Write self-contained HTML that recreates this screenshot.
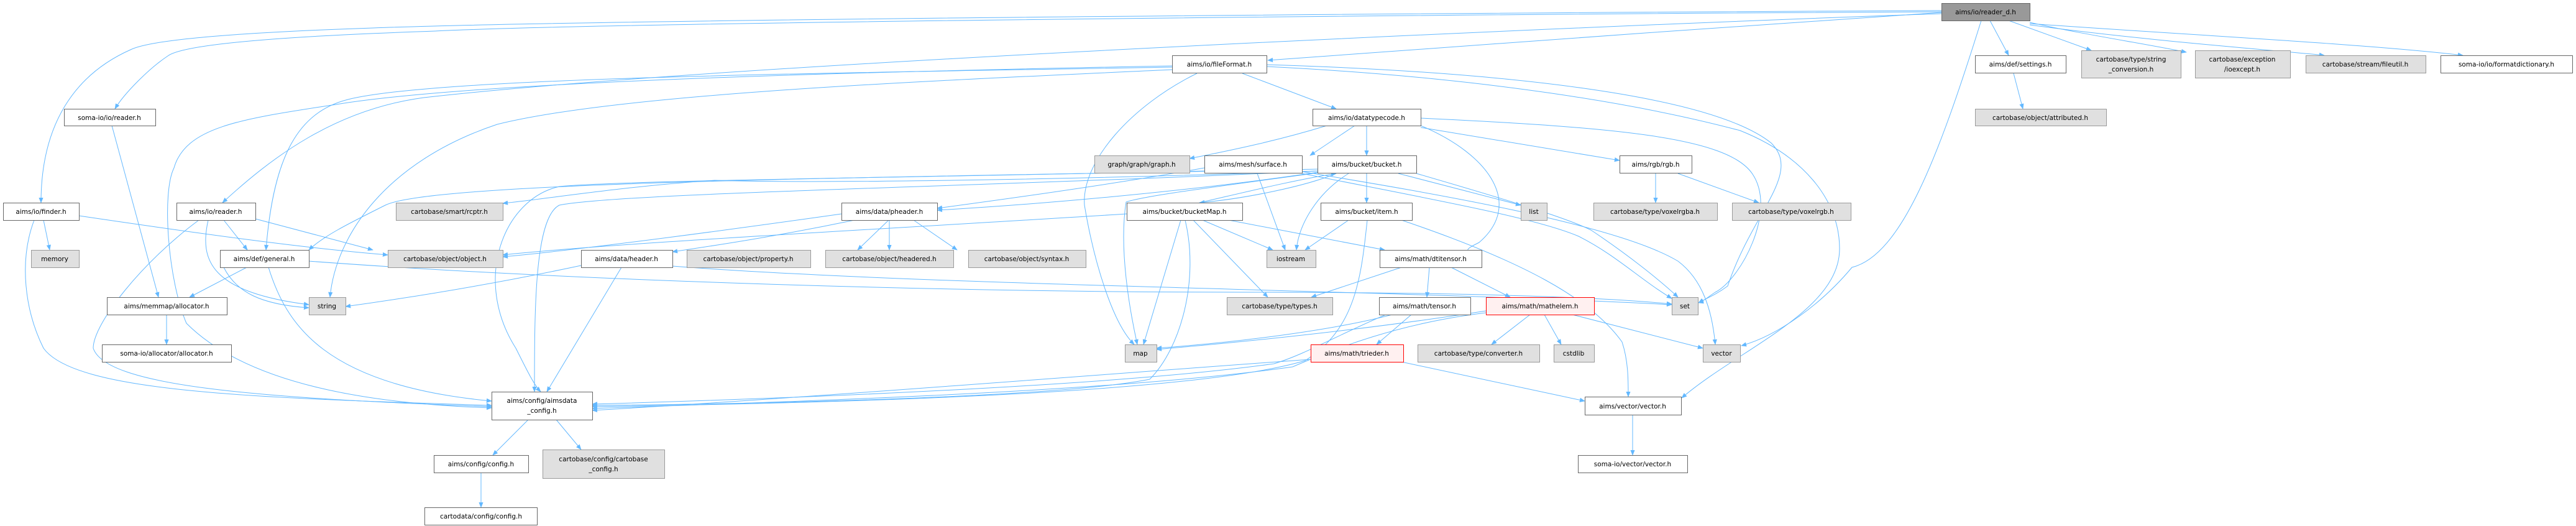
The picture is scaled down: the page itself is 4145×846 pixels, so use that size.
<!DOCTYPE html>
<html><head><meta charset="utf-8"><style>
html,body{margin:0;padding:0;background:#fff;}
svg{display:block;}
text{font-family:"DejaVu Sans","Liberation Sans",sans-serif;font-size:10.5px;fill:#000;text-anchor:middle;}
.e{fill:none;stroke:#63b8ff;stroke-width:1;}
.w{fill:#fff;stroke:#666;stroke-width:1;}
.g{fill:#e0e0e0;stroke:#999;stroke-width:1;}
.r{fill:#fff0f0;stroke:#ff0000;stroke-width:1;}
.root{fill:#999;stroke:#666;stroke-width:1;}
</style></head><body>
<svg width="4145" height="846" viewBox="0 0 4145 846" xmlns="http://www.w3.org/2000/svg">
<defs><marker id="a" viewBox="0 0 10 10" refX="9" refY="5" markerWidth="9" markerHeight="9" orient="auto" markerUnits="userSpaceOnUse"><path d="M0,1 L10,5 L0,9 z" fill="#63b8ff"/></marker></defs>
<g marker-end="url(#a)">
<!-- reader_d edges -->
<path class="e" d="M3124,17 C2500,20 1000,30 600,45 C300,55 230,70 210,80 C120,120 66,200 66,326"/>
<path class="e" d="M3124,19 C2500,22 1000,35 700,50 C400,60 290,75 270,90 C240,110 200,150 185,175"/>
<path class="e" d="M3124,20 C2800,40 2300,80 2040,97"/>
<path class="e" d="M3124,22 C2600,40 1200,100 700,155 C540,170 430,260 358,326"/>
<path class="e" d="M3202,33 L3232,89"/>
<path class="e" d="M3232,33 L3365,81"/>
<path class="e" d="M3266,36 C3350,55 3450,70 3518,84"/>
<path class="e" d="M3266,40 C3450,65 3650,80 3740,89"/>
<path class="e" d="M3266,38 C3500,55 3800,70 3963,89"/>
<path class="e" d="M3188,33 C3120,250 3060,410 2980,430 C2930,490 2860,540 2802,556"/>
<!-- fileFormat edges -->
<path class="e" d="M1886,106 C1400,115 800,130 560,165 C400,190 300,200 280,270 C260,310 270,450 300,520 C400,620 600,650 791,656"/>
<path class="e" d="M1886,108 C1300,118 700,125 560,160 C480,180 440,250 428,402"/>
<path class="e" d="M1886,112 C1500,130 1000,150 800,200 C620,260 540,380 531,478"/>
<path class="e" d="M1926,118 C1820,170 1740,260 1745,330 C1760,420 1790,520 1825,554"/>
<path class="e" d="M1999,118 L2150,175"/>
<path class="e" d="M2038,107 C2400,125 2650,170 2800,210 C2900,250 2960,320 2960,400 C2960,500 2800,560 2706,640"/>
<path class="e" d="M2038,104 C2400,115 2750,150 2850,230 C2900,280 2820,340 2780,460 C2760,475 2745,480 2733,487"/>
<!-- datatypecode edges -->
<path class="e" d="M2135,202 C2060,225 1990,240 1914,255"/>
<path class="e" d="M2180,202 L2108,250"/>
<path class="e" d="M2199,202 L2199,250"/>
<path class="e" d="M2286,205 L2606,258"/>
<path class="e" d="M2286,202 C2400,250 2450,330 2380,390 C2360,400 2350,405 2384,410"/>
<path class="e" d="M2286,190 C2600,205 2780,220 2820,280 C2860,340 2800,450 2760,470 C2745,480 2740,485 2733,487"/>
<!-- surface -->
<path class="e" d="M1938,270 C1800,295 1620,320 1508,335"/>
<path class="e" d="M2023,279 L2068,402"/>
<path class="e" d="M1938,275 C1500,285 1000,290 900,300 C810,320 760,450 830,560 C850,600 860,620 870,630"/>
<path class="e" d="M2095,279 C2300,320 2470,350 2540,380 C2600,410 2640,450 2690,480"/>
<path class="e" d="M2095,276 C2300,310 2600,360 2700,420 C2740,450 2755,500 2760,554"/>
<!-- bucket -->
<path class="e" d="M2120,277 C1900,310 1650,330 1508,338"/>
<path class="e" d="M2150,279 C2100,300 2000,320 1930,326"/>
<path class="e" d="M2199,279 L2199,326"/>
<path class="e" d="M2250,279 L2447,330"/>
<path class="e" d="M2170,279 C2120,310 2090,360 2086,402"/>
<path class="e" d="M2120,275 C1700,290 1300,295 1150,290 C1000,300 880,320 809,327"/>
<path class="e" d="M2120,272 C1500,285 700,290 620,330 C560,360 520,380 497,402"/>
<path class="e" d="M2120,278 C1960,300 1840,315 1812,325 C1800,400 1818,500 1830,554"/>
<path class="e" d="M2120,275 C1600,300 1000,310 900,330 C860,350 860,500 860,630"/>
<path class="e" d="M2279,279 C2420,320 2520,350 2560,370 C2620,410 2670,450 2700,478"/>
<!-- bucketMap -->
<path class="e" d="M1930,326 C2000,310 2080,290 2150,279"/>
<path class="e" d="M1813,344 C1400,370 1000,390 809,410"/>
<path class="e" d="M1935,354 L2048,402"/>
<path class="e" d="M1920,354 L2040,478"/>
<path class="e" d="M1900,354 L1840,554"/>
<path class="e" d="M1977,354 L2228,402"/>
<path class="e" d="M1907,354 C1930,450 1900,560 1850,610 C1700,640 1200,650 953,652"/>
<!-- item -->
<path class="e" d="M2170,354 L2100,402"/>
<path class="e" d="M2200,354 C2190,450 2180,530 2100,580 C1900,640 1200,650 953,654"/>
<path class="e" d="M2255,354 C2450,420 2560,480 2610,550 C2620,580 2620,610 2620,638"/>
<!-- rgb -->
<path class="e" d="M2664,279 L2664,326"/>
<path class="e" d="M2700,279 L2830,326"/>
<!-- pheader -->
<path class="e" d="M1354,344 C1100,380 900,405 809,413"/>
<path class="e" d="M1375,354 C1250,380 1150,395 1082,405"/>
<path class="e" d="M1430,354 L1380,402"/>
<path class="e" d="M1431,354 L1431,402"/>
<path class="e" d="M1470,354 L1540,402"/>
<!-- header -->
<path class="e" d="M935,427 C780,460 650,480 556,493"/>
<path class="e" d="M1000,430 L880,630"/>
<path class="e" d="M1082,428 C1500,460 2200,465 2690,490"/>
<!-- general -->
<path class="e" d="M397,430 L305,478"/>
<path class="e" d="M432,430 C460,520 520,620 791,645"/>
<path class="e" d="M497,420 C900,450 1500,470 2000,470 C2400,470 2600,480 2690,489"/>
<path class="e" d="M360,430 C380,470 420,490 497,495"/>
<!-- dtitensor -->
<path class="e" d="M2255,430 L2110,478"/>
<path class="e" d="M2300,430 L2296,478"/>
<path class="e" d="M2335,430 L2430,478"/>
<!-- tensor, mathelem -->
<path class="e" d="M2240,506 C2150,530 2000,550 1861,560"/>
<path class="e" d="M2271,506 L2215,554"/>
<path class="e" d="M2230,506 C2150,540 2100,570 2050,585 C1800,620 1300,640 953,650"/>
<path class="e" d="M2391,500 C2200,530 2000,550 1861,562"/>
<path class="e" d="M2391,503 C2250,520 2150,560 2080,590 C1800,630 1300,645 953,657"/>
<path class="e" d="M2462,506 L2400,554"/>
<path class="e" d="M2485,506 L2512,554"/>
<path class="e" d="M2530,506 L2740,560"/>
<!-- trieder -->
<path class="e" d="M2255,582 L2550,645"/>
<path class="e" d="M2109,578 C1800,600 1300,640 953,660"/>
<!-- misc -->
<path class="e" d="M2627,667 L2627,732"/>
<path class="e" d="M850,675 L793,732"/>
<path class="e" d="M895,675 L935,723"/>
<path class="e" d="M774,760 L774,816"/>
<path class="e" d="M268,506 L268,554"/>
<path class="e" d="M180,202 L255,478"/>
<path class="e" d="M70,354 L80,402"/>
<path class="e" d="M127,347 C350,380 500,400 624,410"/>
<path class="e" d="M55,354 C30,420 40,500 70,560 C120,630 400,640 791,652"/>
<path class="e" d="M360,354 L398,402"/>
<path class="e" d="M411,352 L600,402"/>
<path class="e" d="M335,354 C320,420 340,470 497,490"/>
<path class="e" d="M320,354 C230,420 150,520 150,560 C170,620 400,640 791,654"/>
<path class="e" d="M3240,118 L3255,175"/>
</g>
<!-- nodes -->
<rect class="root" x="3124.5" y="5.5" width="142" height="28"/><text x="3195" y="23">aims/io/reader_d.h</text>
<rect class="w" x="3178.5" y="89.5" width="146" height="28"/><text x="3251" y="107">aims/def/settings.h</text>
<rect class="g" x="3349.5" y="81.5" width="160" height="44"/><text x="3429" y="99">cartobase/type/string</text><text x="3429" y="115">_conversion.h</text>
<rect class="g" x="3532.5" y="81.5" width="153" height="44"/><text x="3608" y="99">cartobase/exception</text><text x="3608" y="115">/ioexcept.h</text>
<rect class="g" x="3710.5" y="89.5" width="193" height="28"/><text x="3806" y="107">cartobase/stream/fileutil.h</text>
<rect class="w" x="3927.5" y="89.5" width="212" height="28"/><text x="4033" y="107">soma-io/io/formatdictionary.h</text>
<rect class="g" x="3178.5" y="175.5" width="211" height="27"/><text x="3283" y="193">cartobase/object/attributed.h</text>
<rect class="w" x="1886.5" y="89.5" width="152" height="28"/><text x="1962" y="107">aims/io/fileFormat.h</text>
<rect class="w" x="2112.5" y="175.5" width="174" height="27"/><text x="2199" y="193">aims/io/datatypecode.h</text>
<rect class="g" x="1761.5" y="250.5" width="153" height="28"/><text x="1837" y="268">graph/graph/graph.h</text>
<rect class="w" x="1938.5" y="250.5" width="157" height="28"/><text x="2016" y="268">aims/mesh/surface.h</text>
<rect class="w" x="2120.5" y="250.5" width="159" height="28"/><text x="2199" y="268">aims/bucket/bucket.h</text>
<rect class="w" x="2606.5" y="250.5" width="116" height="28"/><text x="2664" y="268">aims/rgb/rgb.h</text>
<rect class="w" x="1813.5" y="326.5" width="186" height="28"/><text x="1906" y="344">aims/bucket/bucketMap.h</text>
<rect class="w" x="2125.5" y="326.5" width="147" height="28"/><text x="2199" y="344">aims/bucket/item.h</text>
<rect class="g" x="2447.5" y="326.5" width="42" height="28"/><text x="2468" y="344">list</text>
<rect class="g" x="2564.5" y="326.5" width="199" height="28"/><text x="2663" y="344">cartobase/type/voxelrgba.h</text>
<rect class="g" x="2787.5" y="326.5" width="191" height="28"/><text x="2882" y="344">cartobase/type/voxelrgb.h</text>
<rect class="w" x="1354.5" y="326.5" width="154" height="28"/><text x="1431" y="344">aims/data/pheader.h</text>
<rect class="g" x="637.5" y="326.5" width="172" height="28"/><text x="723" y="344">cartobase/smart/rcptr.h</text>
<rect class="w" x="5.5" y="326.5" width="122" height="28"/><text x="66" y="344">aims/io/finder.h</text>
<rect class="w" x="284.5" y="326.5" width="127" height="28"/><text x="347" y="344">aims/io/reader.h</text>
<rect class="w" x="103.5" y="175.5" width="147" height="27"/><text x="176" y="193">soma-io/io/reader.h</text>
<rect class="g" x="50.5" y="402.5" width="77" height="28"/><text x="88" y="420">memory</text>
<rect class="w" x="354.5" y="402.5" width="143" height="28"/><text x="425" y="420">aims/def/general.h</text>
<rect class="g" x="624.5" y="402.5" width="185" height="28"/><text x="716" y="420">cartobase/object/object.h</text>
<rect class="w" x="935.5" y="402.5" width="147" height="28"/><text x="1008" y="420">aims/data/header.h</text>
<rect class="g" x="1105.5" y="402.5" width="199" height="28"/><text x="1204" y="420">cartobase/object/property.h</text>
<rect class="g" x="1328.5" y="402.5" width="206" height="28"/><text x="1431" y="420">cartobase/object/headered.h</text>
<rect class="g" x="1558.5" y="402.5" width="189" height="28"/><text x="1652" y="420">cartobase/object/syntax.h</text>
<rect class="g" x="2038.5" y="402.5" width="79" height="28"/><text x="2077" y="420">iostream</text>
<rect class="w" x="2220.5" y="402.5" width="164" height="28"/><text x="2302" y="420">aims/math/dtitensor.h</text>
<rect class="g" x="497.5" y="478.5" width="59" height="28"/><text x="526" y="496">string</text>
<rect class="w" x="172.5" y="478.5" width="193" height="28"/><text x="268" y="496">aims/memmap/allocator.h</text>
<rect class="g" x="1974.5" y="478.5" width="170" height="28"/><text x="2059" y="496">cartobase/type/types.h</text>
<rect class="w" x="2219.5" y="478.5" width="147" height="28"/><text x="2292" y="496">aims/math/tensor.h</text>
<rect class="r" x="2391.5" y="478.5" width="174" height="28"/><text x="2478" y="496">aims/math/mathelem.h</text>
<rect class="g" x="2690.5" y="478.5" width="42" height="28"/><text x="2711" y="496">set</text>
<rect class="w" x="164.5" y="554.5" width="208" height="28"/><text x="268" y="572">soma-io/allocator/allocator.h</text>
<rect class="g" x="1810.5" y="554.5" width="51" height="28"/><text x="1835" y="572">map</text>
<rect class="r" x="2109.5" y="554.5" width="149" height="28"/><text x="2183" y="572">aims/math/trieder.h</text>
<rect class="g" x="2281.5" y="554.5" width="196" height="28"/><text x="2379" y="572">cartobase/type/converter.h</text>
<rect class="g" x="2500.5" y="554.5" width="65" height="28"/><text x="2532" y="572">cstdlib</text>
<rect class="g" x="2740.5" y="554.5" width="60" height="28"/><text x="2770" y="572">vector</text>
<rect class="w" x="791.5" y="630.5" width="162" height="45"/><text x="872" y="648">aims/config/aimsdata</text><text x="872" y="664">_config.h</text>
<rect class="w" x="2550.5" y="638.5" width="155" height="29"/><text x="2627" y="657">aims/vector/vector.h</text>
<rect class="w" x="698.5" y="732.5" width="152" height="28"/><text x="774" y="750">aims/config/config.h</text>
<rect class="g" x="873.5" y="723.5" width="196" height="46"/><text x="971" y="742">cartobase/config/cartobase</text><text x="971" y="758">_config.h</text>
<rect class="w" x="2539.5" y="732.5" width="176" height="28"/><text x="2627" y="750">soma-io/vector/vector.h</text>
<rect class="w" x="683.5" y="816.5" width="181" height="28"/><text x="774" y="834">cartodata/config/config.h</text>
</svg>
</body></html>
